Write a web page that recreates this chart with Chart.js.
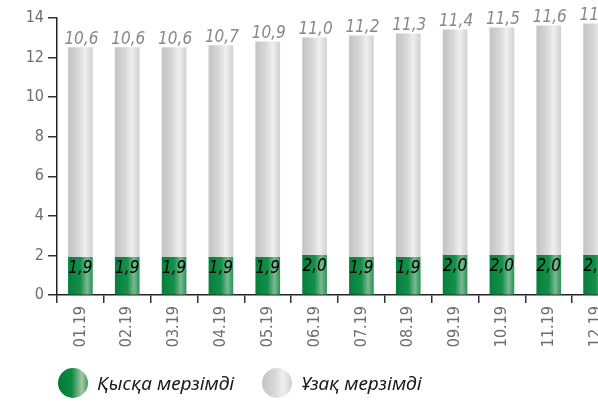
<!DOCTYPE html>
<html lang="kk">
<head>
    <meta charset="UTF-8">
    <title>Қысқа және ұзақ мерзімді</title>
    <style>
        body { margin: 0; overflow: hidden; background: #fff; }
        .wrap { position: relative; width: 632px; height: 404px; }
        .legend { position: absolute; left: 58px; top: 368px; display: flex; align-items: center; font-family: "Noto Sans", sans-serif; font-style: italic; font-size: 19px; color: #1a1a1a; }
        .legend span.dot { display: inline-block; width: 30px; height: 30px; border-radius: 50%; margin-right: 9px; }
        .legend .item { display: flex; align-items: center; margin-right: 28px; }
        .dot.short { background: linear-gradient(to right, #007a35 0%, #0c8a42 45%, #a9c7a2 80%, #3c9a5c 100%); }
        .dot.long { background: linear-gradient(to right, #c4c4c4 0%, #d6d6d6 40%, #efefef 70%, #d2d2d2 100%); }
    </style>
</head>
<body>
<div class="wrap">
    <canvas id="debtChart" width="632" height="404"></canvas>
    <div class="legend">
        <div class="item"><span class="dot short"></span>Қысқа мерзімді</div>
        <div class="item"><span class="dot long"></span>Ұзақ мерзімді</div>
    </div>
</div>

<script src="https://cdn.jsdelivr.net/npm/chart.js"></script>
<script>
    // айлар
    const months = ['01.19', '02.19', '03.19', '04.19', '05.19', '06.19', '07.19', '08.19', '09.19', '10.19', '11.19', '12.19'];
    // қысқа мерзімді
    const shortTerm = [1.9, 1.9, 1.9, 1.9, 1.9, 2.0, 1.9, 1.9, 2.0, 2.0, 2.0, 2.0];
    // ұзақ мерзімді
    const longTerm = [10.6, 10.6, 10.6, 10.7, 10.9, 11.0, 11.2, 11.3, 11.4, 11.5, 11.6, 11.7];
    const yTicks = [0, 2, 4, 6, 8, 10, 12, 14];

    const narrow = '"DejaVu Sans Condensed", "Liberation Sans Narrow", sans-serif';
    const BAR_W = 24;

    // цилиндр тәрізді градиент
    function barGradient(stops) {
        return function (context) {
            const chart = context.chart;
            const xScale = chart.scales.x;
            if (!xScale || context.dataIndex === undefined) return stops[0][1];
            const cx = xScale.getPixelForValue(context.dataIndex);
            if (!isFinite(cx)) return stops[0][1];
            const g = chart.ctx.createLinearGradient(cx - BAR_W / 2, 0, cx + BAR_W / 2, 0);
            stops.forEach(s => g.addColorStop(s[0], s[1]));
            return g;
        };
    }

    const greenStops = [[0, '#087f3c'], [0.5, '#12904a'], [0.78, '#7db893'], [1, '#2a9658']];
    const greyStops = [[0, '#c4c4c4'], [0.4, '#d6d6d6'], [0.7, '#efefef'], [1, '#d2d2d2']];

    // мәндерді жазу
    const valueLabels = {
        id: 'valueLabels',
        afterDatasetsDraw(chart) {
            const ctx = chart.ctx;
            ctx.save();
            ctx.textAlign = 'center';
            chart.data.datasets.forEach((ds, i) => {
                const meta = chart.getDatasetMeta(i);
                meta.data.forEach((bar, j) => {
                    const txt = ds.data[j].toFixed(1).replace('.', ',');
                    if (i === 0) {
                        ctx.font = 'italic 17px ' + narrow;
                        ctx.fillStyle = '#000';
                        ctx.textBaseline = 'middle';
                        ctx.fillText(txt, bar.x, bar.y + 11);
                    } else {
                        ctx.font = 'italic 17px ' + narrow;
                        ctx.fillStyle = '#888';
                        ctx.textBaseline = 'alphabetic';
                        ctx.fillText(txt, bar.x + 1, bar.y - 4);
                    }
                });
            });
            ctx.restore();
        }
    };

    const ctx = document.getElementById('debtChart').getContext('2d');
    new Chart(ctx, {
        type: 'bar',
        data: {
            labels: months,
            datasets: [{
                label: 'Қысқа мерзімді',
                data: shortTerm,
                backgroundColor: barGradient(greenStops),
                barThickness: BAR_W
            }, {
                label: 'Ұзақ мерзімді',
                data: longTerm,
                backgroundColor: barGradient(greyStops),
                barThickness: BAR_W
            }]
        },
        options: {
            responsive: false,
            animation: false,
            devicePixelRatio: 1,
            layout: { padding: { top: 18, right: 13, left: 0, bottom: 0 } },
            plugins: {
                legend: { display: false },
                tooltip: { enabled: false }
            },
            scales: {
                x: {
                    stacked: true,
                    afterFit: (scale) => { scale.height = 109; },
                    grid: { offset: true, drawOnChartArea: false, tickLength: 8, color: '#333', lineWidth: 1.5 },
                    border: { color: '#222', width: 1.5 },
                    ticks: { minRotation: 90, maxRotation: 90, color: '#6d6d6d', padding: 3, font: { family: narrow, size: 16 } }
                },
                y: {
                    stacked: true,
                    min: 0,
                    max: 14,
                    afterFit: (scale) => { scale.width = 57; },
                    afterBuildTicks: (scale) => { scale.ticks = yTicks.map(v => ({ value: v })); },
                    grid: { drawOnChartArea: false, tickLength: 9, color: '#333', lineWidth: 1.5 },
                    border: { color: '#222', width: 1.5 },
                    ticks: { color: '#6d6d6d', padding: 4, font: { family: narrow, size: 16 } }
                }
            }
        },
        plugins: [valueLabels]
    });
</script>
</body>
</html>
